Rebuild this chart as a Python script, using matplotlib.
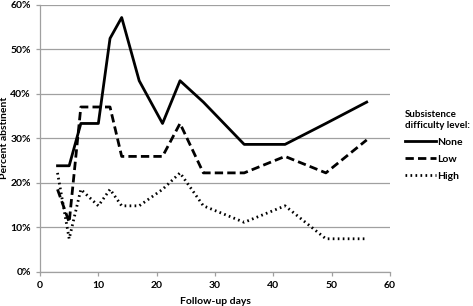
import matplotlib.pyplot as plt
from matplotlib.ticker import PercentFormatter

# follow-up days and percent abstinent per group
days = [3, 5, 7, 10, 12, 14, 17, 21, 24, 28, 35, 42, 49, 56]
none_pct = [23.8, 23.8, 33.3, 33.3, 52.4, 57.1, 42.9, 33.3, 42.9, 38.1, 28.6, 28.6, 33.3, 38.1]
low_pct = [18.5, 11.1, 37.0, 37.0, 37.0, 25.9, 25.9, 25.9, 33.3, 22.2, 22.2, 25.9, 22.2, 29.6]
high_pct = [22.2, 7.4, 18.5, 14.8, 18.5, 14.8, 14.8, 18.5, 22.2, 14.8, 11.1, 14.8, 7.4, 7.4]

plt.rcParams['font.family'] = ['Lato', 'DejaVu Sans']
plt.rcParams['font.weight'] = 'bold'

fig = plt.figure(figsize=(4.73, 3.06), dpi=100)
ax = fig.add_axes([0.0846, 0.112, 0.74, 0.873])

ax.plot(days, none_pct, color='black', lw=2.0, ls='-', label='None')
ax.plot(days, low_pct, color='black', lw=2.0, ls=(0, (3, 1.5)), label='Low')
ax.plot(days, high_pct, color='black', lw=2.0, ls=(0, (0.6, 1.2)), label='High')

ax.set_xlim(0, 60)
ax.set_ylim(0, 60)
ax.set_xticks(range(0, 61, 10))
ax.set_yticks(range(0, 61, 10))
ax.yaxis.set_major_formatter(PercentFormatter(decimals=0))
ax.grid(axis='y', color='#a0a0a0', lw=0.9)
ax.set_axisbelow(True)
for s in ['top', 'right']:
    ax.spines[s].set_visible(False)
for s in ['left', 'bottom']:
    ax.spines[s].set_color('#a0a0a0')
    ax.spines[s].set_linewidth(0.9)
ax.tick_params(axis='both', colors='#a0a0a0', labelcolor='black', labelsize=7.5, length=3, width=0.9)
ax.set_xlabel('Follow-up days', fontsize=7.5, fontweight='bold')
ax.set_ylabel('Percent abstinent', fontsize=7.5, fontweight='bold')
ax.xaxis.set_label_coords(0.5, -0.095)
ax.yaxis.set_label_coords(-0.088, 0.5)

leg = ax.legend(loc='upper left', bbox_to_anchor=(1.015, 0.64), frameon=False,
                title='Subsistence\ndifficulty level:', fontsize=7.5, title_fontsize=7,
                handlelength=3.0, handletextpad=0.1, labelspacing=0.75, alignment='left')
leg.get_title().set_fontweight('bold')

fig.savefig('out.png', dpi=100)
